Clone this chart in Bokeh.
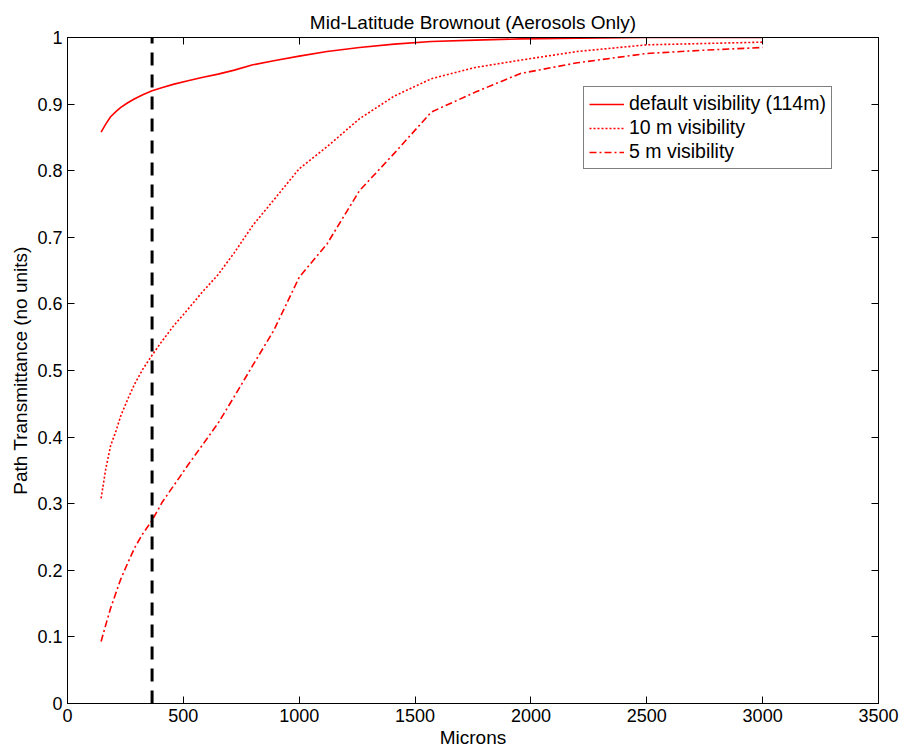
from bokeh.plotting import figure
from bokeh.models import Range1d, LinearAxis, FixedTicker, Legend, LegendItem, CustomJSTickFormatter
from bokeh.embed import file_html
from bokeh.resources import INLINE

# ---- data ----
microns = [145, 165, 186, 210, 230, 260, 290, 325, 365, 410, 460, 520, 580, 650, 720,
           800, 890, 1000, 1120, 1260, 1410, 1570, 1760, 1955, 2200, 2500, 2750, 3000]
default_vis = [0.858, 0.870, 0.881, 0.889, 0.895, 0.902, 0.908, 0.914, 0.920, 0.925, 0.930,
               0.935, 0.940, 0.945, 0.951, 0.959, 0.965, 0.972, 0.979, 0.985, 0.990, 0.994,
               0.996, 0.998, 0.999, 1.000, 1.000, 1.000]
vis_10m = [0.308, 0.352, 0.387, 0.410, 0.432, 0.457, 0.480, 0.502, 0.523, 0.545, 0.568,
           0.592, 0.617, 0.644, 0.677, 0.718, 0.756, 0.803, 0.836, 0.878, 0.912, 0.938,
           0.955, 0.966, 0.979, 0.989, 0.991, 0.993]
vis_5m = [0.093, 0.118, 0.143, 0.167, 0.187, 0.211, 0.234, 0.255, 0.275, 0.303, 0.328,
          0.358, 0.387, 0.421, 0.461, 0.508, 0.560, 0.640, 0.690, 0.770, 0.826, 0.888,
          0.918, 0.946, 0.962, 0.976, 0.981, 0.985]
series_names = ["default visibility (114m)", "10 m visibility", "5 m visibility"]
cutoff_micron = 365
cutoff_y = [0, 1]

x_ticks = [0, 500, 1000, 1500, 2000, 2500, 3000, 3500]
y_ticks = [0, 0.1, 0.2, 0.3, 0.4, 0.5, 0.6, 0.7, 0.8, 0.9, 1.0]
y_tick_labels = ["0", "0.1", "0.2", "0.3", "0.4", "0.5", "0.6", "0.7", "0.8", "0.9", "1"]

FONT = "Liberation Sans"

p = figure(width=902, height=750, x_range=Range1d(0, 3500), y_range=Range1d(0, 1),
           output_backend="svg", toolbar_location=None,
           title="Mid-Latitude Brownout (Aerosols Only)",
           min_border_left=67, min_border_right=24, min_border_top=37, min_border_bottom=46,
           x_axis_label="Microns", y_axis_label="Path Transmittance (no units)")

p.title.align = "center"
p.title.text_font = FONT
p.title.text_font_size = "19px"
p.title.text_font_style = "normal"
p.title.text_color = "black"
p.title.standoff = 10

p.xgrid.visible = False
p.ygrid.visible = False
p.outline_line_color = "black"
p.outline_line_width = 1
p.background_fill_color = "white"
p.border_fill_color = "white"

def style_axis(ax, ticks, labels=True):
    ax.ticker = FixedTicker(ticks=ticks)
    ax.major_tick_in = 7
    ax.major_tick_out = 0
    ax.minor_tick_in = 0
    ax.minor_tick_out = 0
    ax.axis_line_color = "black"
    ax.major_tick_line_color = "black"
    ax.major_label_text_font = FONT
    ax.major_label_text_font_size = "18px"
    ax.major_label_text_color = "black"
    ax.axis_label_text_font = FONT
    ax.axis_label_text_font_size = "19px"
    ax.axis_label_text_font_style = "normal"
    ax.axis_label_text_color = "black"
    if not labels:
        ax.formatter = CustomJSTickFormatter(code="return ''")
        ax.major_label_standoff = 0

xa = p.xaxis[0]
style_axis(xa, x_ticks)
xa.major_label_standoff = 5
xa.axis_label_standoff = 2

ya = p.yaxis[0]
style_axis(ya, y_ticks)
ya.major_label_overrides = {t: l for t, l in zip(y_ticks, y_tick_labels)}
ya.major_label_standoff = 5
ya.axis_label_standoff = 3

top = LinearAxis()
style_axis(top, x_ticks, labels=False)
p.add_layout(top, "above")
right = LinearAxis()
style_axis(right, y_ticks, labels=False)
p.add_layout(right, "right")

r1 = p.line(microns, default_vis, line_color="#ff0000", line_width=1.6)
r2 = p.line(microns, vis_10m, line_color="#ff0000", line_width=1.6, line_dash="2 2")
r3 = p.line(microns, vis_5m, line_color="#ff0000", line_width=1.6, line_dash="7 3 2 3")
p.line([cutoff_micron, cutoff_micron], cutoff_y, line_color="black", line_width=3, line_dash="13 9")

legend = Legend(items=[LegendItem(label=series_names[0], renderers=[r1]),
                       LegendItem(label=series_names[1], renderers=[r2]),
                       LegendItem(label=series_names[2], renderers=[r3])],
                location=(516, 534))
legend.label_text_font = FONT
legend.label_text_font_size = "19.5px"
legend.label_text_color = "black"
legend.border_line_color = "black"
legend.border_line_width = 1
legend.background_fill_alpha = 1
legend.padding = 5
legend.spacing = 1
legend.margin = 0
legend.label_height = 22
legend.glyph_height = 22
legend.glyph_width = 35
legend.label_standoff = 5
p.add_layout(legend)

open("out.html", "w").write(file_html(p, INLINE))
